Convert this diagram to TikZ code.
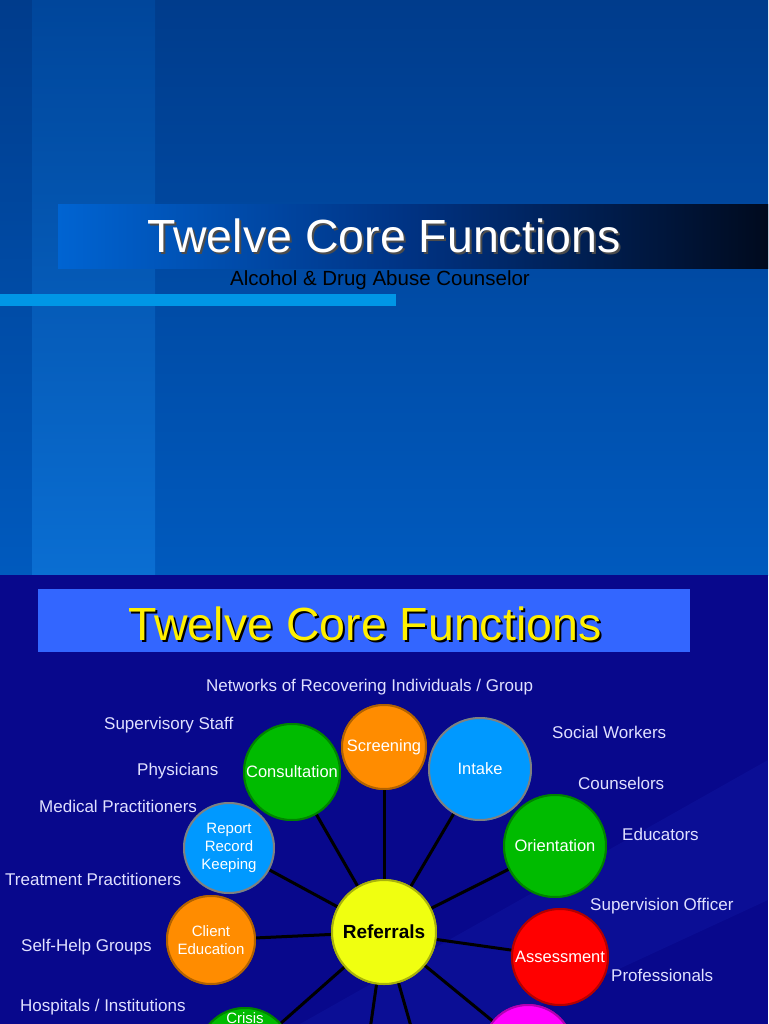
\documentclass[tikz,border=0pt]{standalone}
\usepackage{fontspec}
\setmainfont{Liberation Sans}
\definecolor{cgreen}{HTML}{00BB00}
\definecolor{corange}{HTML}{FF8C00}
\definecolor{cblue}{HTML}{0099FF}
\definecolor{cred}{HTML}{FF0000}
\definecolor{cmag}{HTML}{FF00FF}
\definecolor{cyell}{HTML}{F0FF10}
\definecolor{topa}{RGB}{0,60,140}
\definecolor{topb}{RGB}{0,90,190}
\definecolor{stra}{RGB}{0,70,155}
\definecolor{strb}{RGB}{10,110,210}
\definecolor{banl}{RGB}{0,100,210}
\definecolor{banm}{RGB}{0,50,130}
\definecolor{banr}{RGB}{0,10,30}
\definecolor{lbar}{RGB}{0,150,230}
\definecolor{navy}{RGB}{8,8,140}
\definecolor{streak}{RGB}{20,30,170}
\definecolor{hbox}{RGB}{51,102,255}
\definecolor{hyel}{RGB}{255,240,0}
\begin{document}
\begin{tikzpicture}[x=1pt,y=-1pt,
  lbl/.style={text=white!88!blue,font=\fontsize{17}{19}\selectfont,anchor=west,inner sep=0},
  fn/.style={circle,draw=#1!70!black,line width=2pt,fill=#1,inner sep=0,align=center,text=white,font=\fontsize{16.5}{18}\selectfont},
  conn/.style={line width=3pt,black}]
\useasboundingbox (0,0) rectangle (768,1024);
\begin{scope}
\clip (0,0) rectangle (768,1024);
% top slide
\shade[top color=topa,bottom color=topb] (0,0) rectangle (768,575);
\shade[top color=stra,bottom color=strb] (32,0) rectangle (155,575);
\shade[left color=banl,right color=banr,middle color=banm] (58,205) rectangle (768,268);
\fill[lbar] (0,294) rectangle (396,306);
\node[text=black!70,font=\fontsize{46.5}{50}\selectfont] at (386,238) {Twelve Core Functions};
\node (t1) [text=white,font=\fontsize{46.5}{50}\selectfont] at (384,236) {Twelve Core Functions};
\node (t2) [text=black,font=\fontsize{20.5}{22}\selectfont] at (380,280) {Alcohol \& Drug Abuse Counselor};
% bottom slide
\fill[navy] (0,575) rectangle (768,1024);
\fill[streak,opacity=0.3] (300,1024) -- (768,760) -- (768,900) -- (500,1024) -- cycle;
\fill[hbox] (38,589) rectangle (690,652);
\node[text=black,font=\fontsize{46.5}{50}\selectfont] at (367,626) {Twelve Core Functions};
\node (h) [text=hyel,font=\fontsize{46.5}{50}\selectfont] at (365,624) {Twelve Core Functions};
% named nodes for connectors
\coordinate (d1) at (370,1030);
\coordinate (d2) at (412,1030);
\node (ref) [fn=cyell,minimum size=104pt] at (384,932) {};
\node (scr) [fn=corange,minimum size=84pt] at (384,747) {};
\node (int) [fn=cblue,minimum size=102pt] at (480,769) {};
\node (con) [fn=cgreen,minimum size=96pt] at (292,772) {};
\node (rep) [fn=cblue,minimum size=90pt] at (229,848) {};
\node (ori) [fn=cgreen,minimum size=102pt] at (555,846) {};
\node (cli) [fn=corange,minimum size=88pt] at (211,940) {};
\node (ass) [fn=cred,minimum size=96pt] at (560,957) {};
\node (cri) [fn=cgreen,minimum size=94pt] at (245,1055) {};
\node (mag) [fn=cmag,minimum size=90pt] at (528,1050) {};
\foreach \n in {scr,int,con,rep,ori,cli,ass,cri,mag} \draw[conn] (ref) -- (\n);
\draw[conn] (ref) -- (d1);
\draw[conn] (ref) -- (d2);
% circles over connectors
\node[fn=cyell,minimum size=104pt,text=black,font=\fontsize{19}{21}\selectfont\bfseries] at (384,932) {Referrals};
\node[fn=corange,minimum size=84pt] at (384,747) {Screening};
\node[fn=cblue,draw=gray,minimum size=102pt] at (480,769) {Intake};
\node[fn=cgreen,minimum size=96pt] at (292,772) {Consultation};
\node[fn=cblue,draw=gray,minimum size=90pt,font=\fontsize{15}{18}\selectfont] at (229,848) {Report\\Record\\Keeping};
\node[fn=cgreen,minimum size=102pt] at (555,846) {Orientation};
\node[fn=corange,minimum size=88pt,font=\fontsize{15}{18}\selectfont] at (211,940) {Client\\Education};
\node[fn=cred,minimum size=96pt,font=\fontsize{16.5}{18}\selectfont] at (560,957) {Assessment};
\node[fn=cgreen,minimum size=94pt] at (245,1055) {};
\node (crit) [text=white,font=\fontsize{15}{18}\selectfont] at (245,1018) {Crisis};
\node[fn=cmag,minimum size=90pt] at (528,1050) {};
% labels
\node (l1) [lbl] at (206,687) {Networks of Recovering Individuals / Group};
\node (l2) [lbl] at (104,725) {Supervisory Staff};
\node (l3) [lbl] at (137,771) {Physicians};
\node (l4) [lbl] at (39,806) {Medical Practitioners};
\node (l5) [lbl] at (5,879) {Treatment Practitioners};
\node (l6) [lbl] at (21,947) {Self-Help Groups};
\node (l7) [lbl] at (20,1007) {Hospitals / Institutions};
\node (r1) [lbl] at (552,732) {Social Workers};
\node (r2) [lbl] at (578,783) {Counselors};
\node (r3) [lbl] at (622,834) {Educators};
\node (r4) [lbl] at (590,906) {Supervision Officer};
\node (r5) [lbl] at (611,975) {Professionals};
\end{scope}
\end{tikzpicture}
\end{document}
